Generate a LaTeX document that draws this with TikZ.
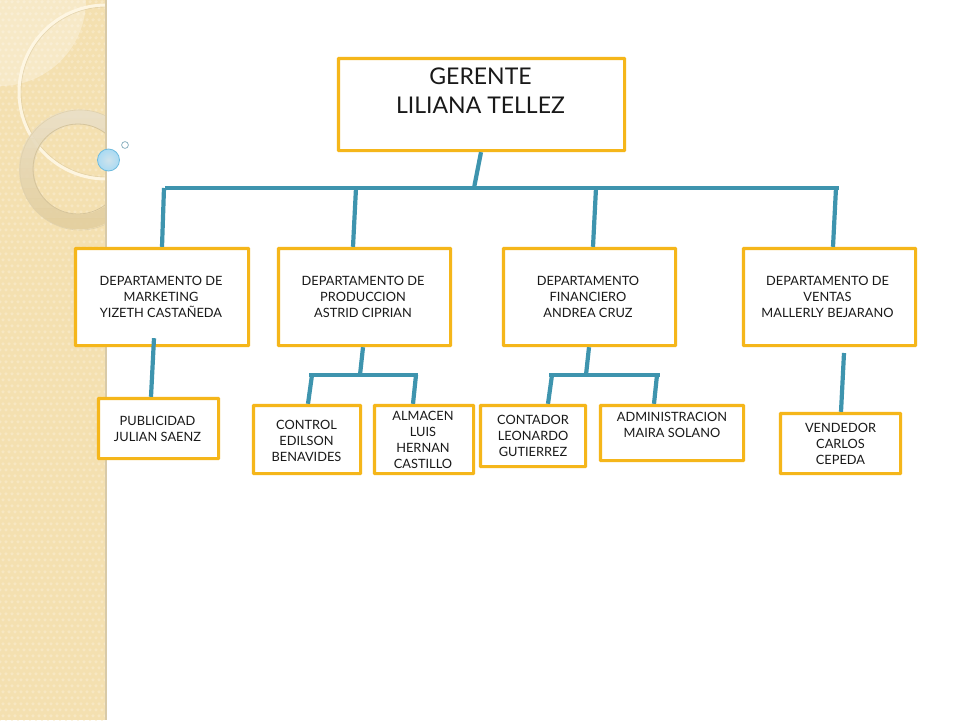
\documentclass[tikz,border=0pt]{standalone}
\usepackage{fontspec}
\setmainfont{Lato}
\usetikzlibrary{calc}
\definecolor{boxline}{HTML}{F5B61A}
\definecolor{conn}{HTML}{3E94AE}
\definecolor{panel}{HTML}{F4E0B0}
\definecolor{panelb}{HTML}{F7E7C2}
\definecolor{ringtop}{HTML}{E9DFC8}
\definecolor{ringbot}{HTML}{E3CF9F}
\definecolor{ringin}{HTML}{D6C59C}
\definecolor{ringout}{HTML}{E0D1AC}
\definecolor{edgeline}{HTML}{D8CAA8}
\definecolor{cream}{HTML}{FFF8E6}
\definecolor{bubin}{HTML}{CFE3EC}
\definecolor{bubout}{HTML}{A9DAF3}
\definecolor{bubline}{HTML}{6FBBDD}
\definecolor{dotline}{HTML}{8FB4C2}
\tikzset{
  x=1pt,y=-1pt,
  orgbox/.style={draw=boxline,line width=3.2pt,fill=white,inner sep=0pt,rounded corners=0.6pt,font=\fontsize{12.8}{16}\selectfont,text=black!90},
  topbox/.style={orgbox,font=\fontsize{23}{29}\selectfont},
  link/.style={draw=conn,line width=4.2pt}
}
\newcommand\txt[3]{\hspace*{#2pt}\raisebox{#1pt}[0pt][0pt]{\begin{tabular}[c]{@{}c@{}}#3\end{tabular}}}
\newcommand\bx[7][orgbox]{%
  \node[#1,minimum width=#5pt-#3pt-0.8pt,minimum height=#6pt-#4pt-0.8pt] (#2) at ({(#3+#5)/2},{(#4+#6)/2}) {#7};}
\begin{document}
\begin{tikzpicture}
\useasboundingbox (0,0) rectangle (960,720);
\fill[white] (0,0) rectangle (960,720);
% side panel
\begin{scope}
\clip (0,0) rectangle (106,720);
\fill[panel] (0,0) rectangle (106,720);
\foreach \i in {0,...,18}{
  \foreach \j in {0,...,120}{
    \fill[panelb] ({\i*6+mod(\j,2)*3},{\j*6}) -- +(1.8,1.8) -- +(0,3.6) -- +(-1.8,1.8) -- cycle;
  }
}
\fill[white,opacity=.3] (0,0) -- (86,0) arc[start angle=0,end angle=90,radius=86] -- cycle;
\draw[draw=ringin,opacity=.5,line width=.8pt] (106,92) circle[radius=85];
\draw[draw=cream,opacity=.9,line width=3pt] (106,92) circle[radius=87];
\foreach \k in {0,...,11}{
  \pgfmathsetmacro{\mixv}{100-\k*100/11}
  \begin{scope}
    \clip (0,{108+\k*10}) rectangle (106,{118.4+\k*10});
    \draw[ringtop!\mixv!ringbot,line width=15pt,opacity=.9] (79,169.5) circle[radius=52.5];
  \end{scope}
}
\draw[ringin,line width=.8pt] (78,169) circle[radius=45];
\draw[ringout,line width=.6pt] (80,170) circle[radius=60];
\end{scope}
\fill[edgeline] (105,0) rectangle (107,720);
% bubbles
\shade[inner color=bubin,outer color=bubout,draw=bubline,line width=.8pt]
  (108.5,160) circle[radius=11];
\draw[fill=white,draw=dotline,line width=.8pt] (125,145) circle[radius=3.4];
% connectors
\coordinate (busL) at (165,188);
\coordinate (busR) at (839,188);
\coordinate (busTop) at (474,188);
\coordinate (busA) at (164,188);
\coordinate (busB) at (356,188);
\coordinate (busC) at (596,188);
\coordinate (busD) at (836,188);
\coordinate (prodL) at (309,375);
\coordinate (prodR) at (418,375);
\coordinate (prodT) at (360,375);
\coordinate (prodA) at (312,375);
\coordinate (prodB) at (416,375);
\coordinate (finL) at (549,375);
\coordinate (finR) at (660,375);
\coordinate (finT) at (586,375);
\coordinate (finA) at (552,375);
\coordinate (finB) at (657,375);
\coordinate (ventasEnd) at (844,353);
% boxes
\bx[topbox]{gerente}{338}{58}{625}{151}{\txt{5}{-2}{GERENTE\\LILIANA TELLEZ}}
\bx{marketing}{75}{248}{249}{346}{\txt{-4.5}{-2}{DEPARTAMENTO DE\\MARKETING\\YIZETH CASTAÑEDA}}
\bx{produccion}{278}{248}{451}{346}{\txt{-4.5}{-3}{DEPARTAMENTO DE\\PRODUCCION\\ASTRID CIPRIAN}}
\bx{financiero}{503}{248}{676}{346}{\txt{-4.5}{-3}{DEPARTAMENTO\\FINANCIERO\\ANDREA CRUZ}}
\bx{ventas}{743}{248}{916}{346}{\txt{-4.5}{-4}{DEPARTAMENTO DE\\VENTAS\\MALLERLY BEJARANO}}
\bx{publicidad}{98}{398}{219}{459}{\txt{-5}{-2}{PUBLICIDAD\\JULIAN SAENZ}}
\bx{control}{253}{405}{361}{474}{\txt{-6}{-1}{CONTROL\\EDILSON\\BENAVIDES}}
\bx{almacen}{374}{405}{474}{474}{\txt{-5}{-2}{ALMACEN\\LUIS\\HERNAN\\CASTILLO}}
\bx{contador}{480}{405}{586}{467}{\txt{-4}{0}{CONTADOR\\LEONARDO\\GUTIERREZ}}
\bx{administracion}{600}{405}{744}{461}{\txt{4}{0}{ADMINISTRACION\\MAIRA SOLANO}}
\bx{vendedor}{780}{413}{901}{474}{\txt{-5}{0}{VENDEDOR\\CARLOS\\CEPEDA}}
\draw[link] ([xshift=-0.5pt]gerente.south) -- (busTop);
\draw[link] (busL) -- (busR);
\draw[link] (busA) -- (marketing.north);
\draw[link] (busB) -- ([xshift=-11.5pt]produccion.north);
\draw[link] (busC) -- ([xshift=3.5pt]financiero.north);
\draw[link] (busD) -- ([xshift=3.5pt]ventas.north);
\draw[link] ([xshift=-8pt,yshift=9pt]marketing.south) -- ([xshift=-7.5pt]publicidad.north);
\draw[link] ([xshift=-1.5pt]produccion.south) -- (prodT);
\draw[link] (prodL) -- (prodR);
\draw[link] (prodA) -- ([xshift=1pt]control.north);
\draw[link] (prodB) -- ([xshift=-11pt]almacen.north);
\draw[link] ([xshift=-0.5pt]financiero.south) -- (finT);
\draw[link] (finL) -- (finR);
\draw[link] (finA) -- ([xshift=15pt]contador.north);
\draw[link] (finB) -- ([xshift=-18pt]administracion.north);
\draw[link] (ventasEnd) -- ([xshift=0.5pt]vendedor.north);
\end{tikzpicture}
\end{document}
